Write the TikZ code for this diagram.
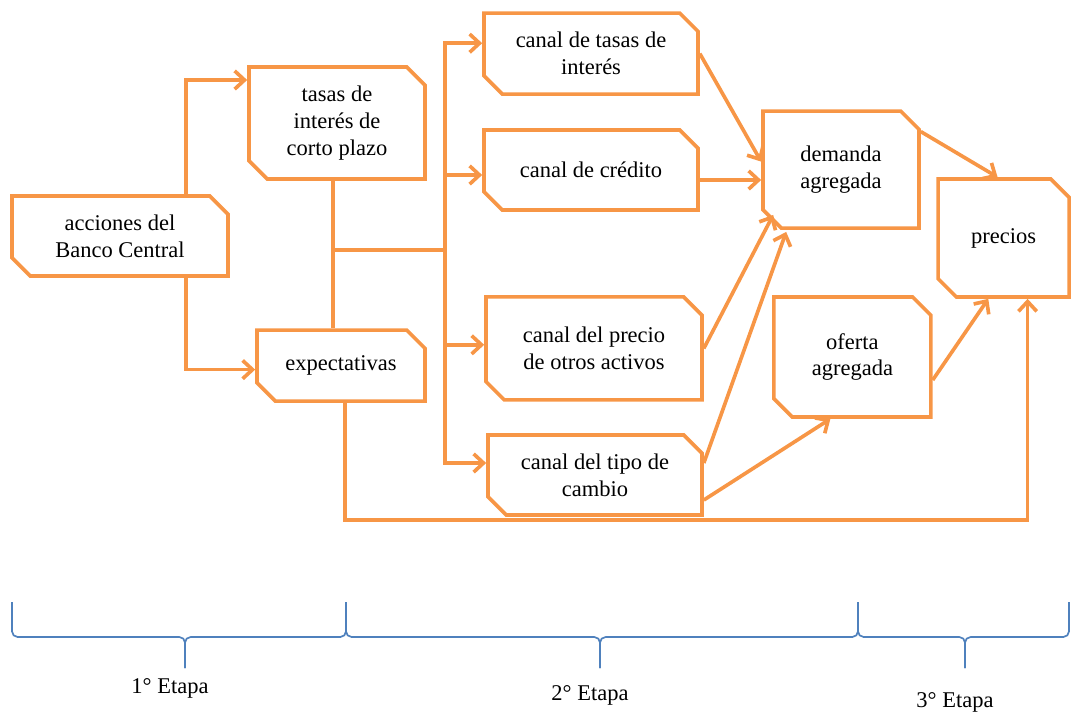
\documentclass[tikz,border=0pt]{standalone}
\usepackage{fontspec}
\setmainfont{Liberation Serif}
\usetikzlibrary{shapes.misc,arrows.meta,calc}

\definecolor{naranja}{RGB}{247,150,70}
\definecolor{azul}{RGB}{79,129,189}

\tikzset{
  caja/.style={chamfered rectangle, chamfered rectangle corners={north east,south west},
    chamfered rectangle sep=6.5pt, draw=naranja, line width=2.6pt, fill=white,
    align=center, inner sep=2pt, font=\fontsize{16}{19}\selectfont},
  flecha/.style={draw=naranja, line width=2.6pt, -{Straight Barb[length=7pt,width=13pt]}},
  linea/.style={draw=naranja, line width=2.6pt},
  llave/.style={draw=azul, line width=1.2pt, rounded corners=4pt},
  etapa/.style={font=\fontsize{16}{19}\selectfont, inner sep=1pt}
}

\begin{document}
\begin{tikzpicture}
  \useasboundingbox (0,0) rectangle (26.775,-17.825);

  % etapa 1
  \node[caja, minimum width=5.4cm, minimum height=2cm] (acciones) at (3.0,-5.9) {acciones del\\Banco Central};
  \node[caja, minimum width=4.4cm, minimum height=2.8cm] (tasas) at (8.425,-3.075) {tasas de\\interés de\\corto plazo};
  \node[caja, minimum width=4.2cm, minimum height=1.775cm] (expectativas) at (8.525,-9.14) {expectativas};

  % etapa 2
  \node[caja, minimum width=5.35cm, minimum height=2.025cm] (ctasas) at (14.775,-1.34) {canal de tasas de\\interés};
  \node[caja, minimum width=5.35cm, minimum height=2cm] (ccredito) at (14.775,-4.25) {canal de crédito};
  \node[caja, minimum width=5.4cm, minimum height=2.575cm] (cprecio) at (14.85,-8.71) {canal del precio\\de otros activos};
  \node[caja, minimum width=5.35cm, minimum height=2cm] (ctipo) at (14.875,-11.875) {canal del tipo de\\cambio};

  % etapa 3
  \node[caja, minimum width=3.9cm, minimum height=2.925cm] (demanda) at (21.025,-4.24) {demanda\\agregada};
  \node[caja, minimum width=3.925cm, minimum height=3cm] (oferta) at (21.31,-8.925) {oferta\\agregada};
  \node[caja, minimum width=3.275cm, minimum height=2.95cm] (precios) at (25.09,-5.95) {precios};

  \coordinate (rama) at (8.325,-6.25);
  \coordinate (bus) at (11.125,-6.25);
  \coordinate (piso) at (8.625,-13.0);

  \draw[flecha] ([xshift=1.65cm]acciones.north) |- ([yshift=1.075cm]tasas.west);
  \draw[flecha] ([xshift=1.65cm]acciones.south) |- ([yshift=-0.1cm]expectativas.west);
  \draw[linea] (tasas.south -| rama) -- (expectativas.north -| rama);
  \draw[linea] (rama) -- (bus);
  \foreach \canal/\dy in {ctasas/0.26, ccredito/-0.125, cprecio/0.09, ctipo/0.3}
    \draw[flecha] (bus) |- ([yshift=\dy cm]\canal.west);
  \draw[flecha] (expectativas.south -| piso) -- (piso) -| ([xshift=0.6cm]precios.south);

  \draw[flecha] (ctasas.east) -- ([yshift=0.2cm]demanda.west);
  \draw[flecha] ([yshift=-0.25cm]ccredito.east) -- (demanda.west |- 0,-4.5);
  \draw[flecha] (cprecio.east) -- ($(demanda.west |- demanda.south)+(0.3,0.375)$);
  \draw[flecha] ([yshift=0.3cm]ctipo.east) -- ($(demanda.west |- demanda.south)+(0.625,-0.05)$);
  \draw[flecha] ([yshift=-0.625cm]ctipo.east) -- ([xshift=-0.55cm]oferta.south);
  \draw[flecha] ([yshift=0.95cm]demanda.east) -- ([xshift=-0.15cm]precios.north);
  \draw[flecha] ([yshift=-0.575cm]oferta.east) -- ($(precios.west |- precios.south)+(1.3,0)$);

  % llaves
  \foreach \a/\b/\t in {0.3/8.65/4.625, 8.65/21.45/15.0, 21.45/26.725/24.125} {
    \draw[llave] (\a,-15.05) |- (\t,-15.925) -- (\t,-16.7);
    \draw[llave] (\b,-15.05) |- (\t,-15.925) -- (\t,-16.7);
  }
  \node[etapa] (e1) at (4.25,-17.2) {1° Etapa};
  \node[etapa] (e2) at (14.75,-17.375) {2° Etapa};
  \node[etapa] (e3) at (23.875,-17.55) {3° Etapa};
\end{tikzpicture}
\end{document}
